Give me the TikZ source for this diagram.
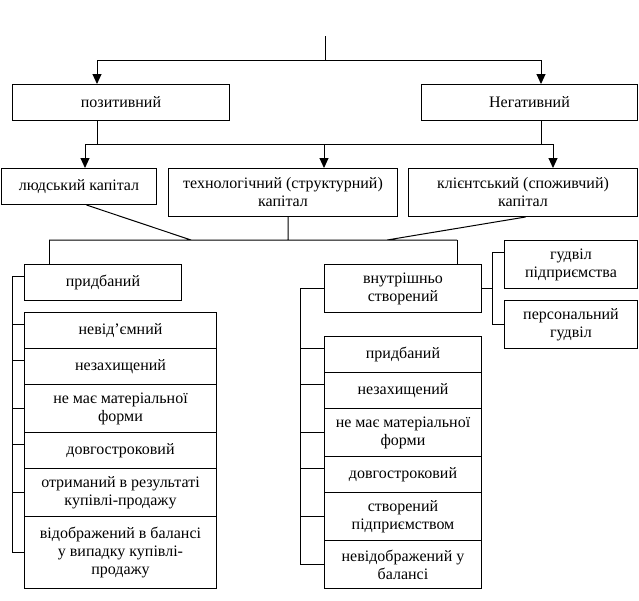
\documentclass[tikz,border=0pt]{standalone}
\usepackage{fontspec}
\setmainfont{Liberation Serif}
\usetikzlibrary{arrows.meta}
\tikzset{
  box/.style n args={2}{draw, line width=1pt, anchor=north west, align=center,
    minimum width=#1pt, minimum height=#2pt, inner sep=2pt},
  arr/.style={-{Triangle[width=9pt,length=10pt]}}
}
\begin{document}
\begin{tikzpicture}[x=1pt,y=-1pt,line width=1pt,font=\fontsize{16}{18}\selectfont]
    \useasboundingbox (0,0) rectangle (639,600);
    % top level
    \node[box={217}{36}] (poz) at (12,84) {позитивний};
    \node[box={216}{36}] (neg) at (421,84) {Негативний};
    % capitals
    \node[box={155}{36}] (lyud) at (1,168) {людський капітал};
    \node[box={229}{48}] (tech) at (168,168) {технологічний (структурний)\\капітал};
    \node[box={229}{48}] (klient) at (408,168) {клієнтський (споживчий)\\капітал};
    % left branch
    \node[box={157}{36}] (prydb) at (24,264) {придбаний};
    \node[box={192}{36}] (a1) at (24,312) {невід’ємний};
    \node[box={192}{36}] (a2) at (24,348) {незахищений};
    \node[box={192}{48}] (a3) at (24,384) {не має матеріальної\\форми};
    \node[box={192}{36}] (a4) at (24,432) {довгостроковий};
    \node[box={192}{48}] (a5) at (24,468) {отриманий в результаті\\купівлі-продажу};
    \node[box={192}{72}] (a6) at (24,516) {відображений в балансі\\у випадку купівлі-\\продажу};
    % right branch
    \node[box={157}{48}] (vnutr) at (324,264) {внутрішньо\\створений};
    \node[box={133}{48}] (gud) at (504,240) {гудвіл\\підприємства};
    \node[box={133}{48}] (pers) at (504,300) {персональний\\гудвіл};
    \node[box={157}{36}] (b1) at (324,336) {придбаний};
    \node[box={157}{36}] (b2) at (324,372) {незахищений};
    \node[box={157}{48}] (b3) at (324,408) {не має матеріальної\\форми};
    \node[box={157}{36}] (b4) at (324,456) {довгостроковий};
    \node[box={157}{48}] (b5) at (324,492) {створений\\підприємством};
    \node[box={157}{48}] (b6) at (324,540) {невідображений у\\балансі};
    % connectors, top
    \coordinate (root) at (325,36);
    \coordinate (t1) at (97,60);
    \coordinate (t2) at (541,60);
    \draw (root) |- (t1) (root) |- (t2);
    \draw[arr] (t1) -- (t1 |- poz.north);
    \draw[arr] (t2) -- (t2 |- neg.north);
    \coordinate (m1) at (85,144);
    \coordinate (m2) at (324,144);
    \coordinate (m3) at (553,144);
    \draw (t1 |- poz.south) -- (t1 |- m1)
          (t2 |- neg.south) -- (t2 |- m3)
          (m1) -- (m3);
    \draw[arr] (m1) -- (m1 |- lyud.north);
    \draw[arr] (m2) -- (m2 |- tech.north);
    \draw[arr] (m3) -- (m3 |- klient.north);
    % connectors, middle
    \coordinate (c1) at (49,240);
    \coordinate (c2) at (191,240);
    \coordinate (c3) at (288,240);
    \coordinate (c4) at (387,240);
    \coordinate (c5) at (457,240);
    \draw ([xshift=7.5pt]lyud.south) -- (c2)
          (c3 |- tech.south) -- (c3)
          ([xshift=2.5pt]klient.south) -- (c4)
          (c1) -- (c5);
    \draw (c1) -- (c1 |- prydb.north)
          (c5) -- (c5 |- vnutr.north);
    % left bracket
    \draw ([yshift=6pt]prydb.west) -- ++(-12,0) |- (a6.west);
    \foreach \n/\s in {a1/6,a2/6,a3/0,a4/6,a5/0}
      \draw ([yshift=\s pt]\n.west) -- ++(-12,0);
    % right bracket
    \draw (vnutr.west) -- ++(-24,0) |- (b6.west);
    \foreach \n/\s in {b1/6,b2/6,b3/0,b4/6,b5/0}
      \draw ([yshift=\s pt]\n.west) -- ++(-24,0);
    \draw (vnutr.east) -- ++(11,0);
    \draw ([yshift=12pt]gud.west) -- ++(-12,0) |- (pers.west);
\end{tikzpicture}
\end{document}
